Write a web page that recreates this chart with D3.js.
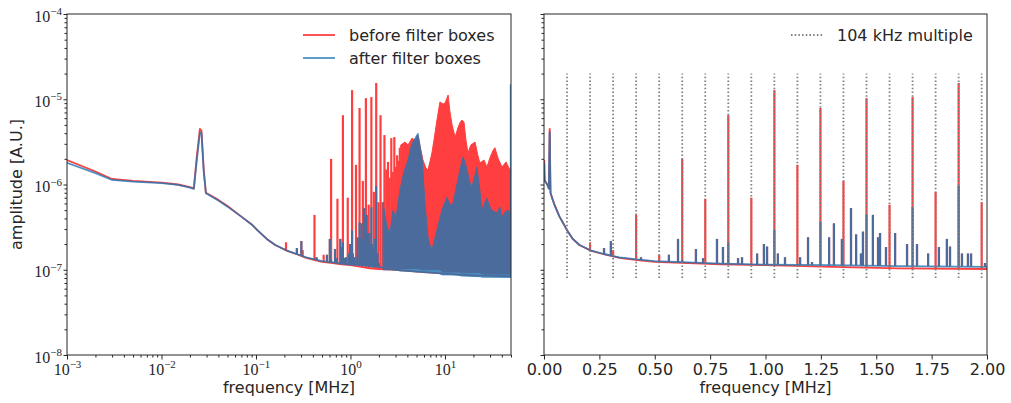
<!DOCTYPE html>
<html>
<head>
<meta charset="utf-8">
<script src="https://cdn.jsdelivr.net/npm/d3@7/dist/d3.min.js"></script>
<style>
  body { margin: 0; background: #ffffff; }
  #graf text { fill: #262626; }
</style>
</head>
<body>
<div id="graf"></div>
<script>
// ===== Datos (frecuencia en MHz, amplitud en A.U.) =====

// Linea base del espectro
const baseFreq   = [0.001, 0.002, 0.003, 0.005, 0.01, 0.015, 0.02, 0.022, 0.0235, 0.0255, 0.0265, 0.028, 0.0295,
                    0.04, 0.05, 0.07, 0.09, 0.104, 0.13, 0.16, 0.21, 0.27, 0.34, 0.42, 0.5, 0.65, 0.8, 1.0, 1.3,
                    1.6, 2.0, 3.0, 5.0, 10, 20, 50]
const baseBefore = [1.94e-6, 1.42e-6, 1.16e-6, 1.10e-6, 1.05e-6, 1.0e-6, 9.3e-7, 9.0e-7, 2.0e-6, 4.5e-6, 4.3e-6, 1.5e-6, 8.0e-7,
                    6.6e-7, 5.6e-7, 4.2e-7, 3.4e-7, 2.9e-7, 2.3e-7, 1.95e-7, 1.68e-7, 1.52e-7, 1.38e-7, 1.3e-7, 1.24e-7, 1.2e-7, 1.16e-7, 1.13e-7, 1.08e-7,
                    1.04e-7, 1.02e-7, 1.0e-7, 9.5e-8, 9.0e-8, 8.6e-8, 8.4e-8]
const baseAfter  = [1.80e-6, 1.36e-6, 1.13e-6, 1.08e-6, 1.04e-6, 9.9e-7, 9.2e-7, 8.9e-7, 1.8e-6, 4.1e-6, 4.0e-6, 1.4e-6, 7.9e-7,
                    6.5e-7, 5.5e-7, 4.2e-7, 3.4e-7, 2.9e-7, 2.3e-7, 1.95e-7, 1.69e-7, 1.53e-7, 1.4e-7, 1.32e-7, 1.26e-7, 1.22e-7, 1.18e-7, 1.15e-7, 1.13e-7,
                    1.1e-7, 1.08e-7, 1.0e-7, 9.5e-8, 9.0e-8, 8.4e-8, 8.2e-8]

// Picos: [frecuencia, piso, pico]
// Picos en multiplos de 104 kHz antes de los filtros
const beforeSpikes = [
  [0.208, 1.68e-7, 2.1e-7], [0.312, 1.45e-7, 1.7e-7], [0.416, 1.3e-7, 4.4e-7], [0.520, 1.24e-7, 1.5e-7],
  [0.624, 1.2e-7, 2.0e-6], [0.728, 1.18e-7, 6.8e-7], [0.832, 1.16e-7, 6.5e-6], [0.936, 1.14e-7, 7.0e-7],
  [1.040, 1.12e-7, 1.28e-5], [1.144, 1.1e-7, 1.7e-6], [1.248, 1.08e-7, 7.9e-6], [1.352, 1.06e-7, 1.1e-6],
  [1.456, 1.05e-7, 1.03e-5], [1.560, 1.04e-7, 5.8e-7], [1.664, 1.03e-7, 1.06e-5], [1.768, 1.03e-7, 8.2e-7],
  [1.872, 1.02e-7, 1.55e-5], [1.976, 1.02e-7, 6.2e-7], [2.080, 1.0e-7, 6.5e-6], [2.184, 1.0e-7, 6.2e-7],
  [2.288, 1.0e-7, 3.8e-6], [2.392, 1.0e-7, 1.5e-6], [2.496, 1.0e-7, 1.84e-6], [2.600, 1.0e-7, 1.2e-6],
  [2.704, 1.0e-7, 3.5e-6], [2.808, 1.0e-7, 1.4e-6], [2.912, 1.0e-7, 3.6e-6], [3.016, 1.0e-7, 1.6e-6],
  [3.120, 1.0e-7, 2.2e-6], [3.224, 1.0e-7, 1.9e-6], [3.328, 1.0e-7, 2.7e-6]
]
// Restos de los picos despues de los filtros
const afterSpikes = [
  [0.624, 1.22e-7, 1.3e-7], [0.832, 1.17e-7, 2.1e-7], [1.040, 1.15e-7, 2.9e-7], [1.248, 1.13e-7, 3.6e-7],
  [1.456, 1.12e-7, 4.4e-7], [1.664, 1.1e-7, 5.4e-7], [1.872, 1.09e-7, 9.6e-7], [49.9, 8.2e-8, 1.5e-5]
]
// Picos presentes antes y despues
const commonSpikes = [
  [0.271, 1.52e-7, 1.8e-7], [0.302, 1.45e-7, 2.17e-7], [0.438, 1.3e-7, 1.4e-7], [0.564, 1.24e-7, 1.5e-7],
  [0.605, 1.22e-7, 2.3e-7], [0.686, 1.2e-7, 1.75e-7], [0.718, 1.2e-7, 1.37e-7],
  [0.781, 1.18e-7, 2.3e-7], [0.808, 1.18e-7, 1.85e-7], [0.876, 1.17e-7, 1.37e-7],
  [0.894, 1.16e-7, 1.4e-7], [0.962, 1.16e-7, 1.55e-7], [0.993, 1.15e-7, 2.0e-7], [1.007, 1.15e-7, 1.87e-7],
  [1.056, 1.15e-7, 1.55e-7], [1.088, 1.14e-7, 1.4e-7], [1.156, 1.14e-7, 1.4e-7],
  [1.192, 1.14e-7, 2.4e-7], [1.210, 1.14e-7, 1.23e-7], [1.287, 1.13e-7, 2.4e-7],
  [1.309, 1.13e-7, 3.5e-7], [1.345, 1.12e-7, 2.3e-7], [1.386, 1.12e-7, 5.3e-7], [1.409, 1.12e-7, 2.6e-7],
  [1.431, 1.12e-7, 1.55e-7], [1.440, 1.12e-7, 2.8e-7], [1.485, 1.11e-7, 4.4e-7],
  [1.508, 1.11e-7, 2.4e-7], [1.517, 1.11e-7, 2.7e-7], [1.544, 1.11e-7, 1.85e-7], [1.585, 1.11e-7, 2.7e-7],
  [1.639, 1.1e-7, 2.0e-7], [1.684, 1.1e-7, 2.0e-7], [1.734, 1.1e-7, 1.55e-7],
  [1.783, 1.09e-7, 1.85e-7], [1.819, 1.09e-7, 2.3e-7], [1.833, 1.09e-7, 1.87e-7],
  [1.887, 1.09e-7, 1.55e-7], [1.914, 1.08e-7, 1.55e-7], [1.928, 1.08e-7, 1.55e-7], [1.991, 1.08e-7, 1.2e-7]
]

// Zonas densas (alta frecuencia): frecuencia, borde inferior y superior
const beforeBandF  = [3.4, 3.78, 4.06, 4.48, 4.82, 5.18, 5.57, 5.85, 6.29, 6.61, 6.93, 7.28, 7.65, 8.23, 8.85, 9.52, 10.0,
                      10.5, 10.8, 11.3, 11.9, 12.8, 13.7, 14.4, 15.1, 15.9, 16.7, 17.5, 18.8, 20.8, 22.3, 23.4, 25.9,
                      27.8, 29.9, 32.2, 33.8, 36.4, 40.1, 44.3, 48.7, 50]
const beforeBandHi = [2.9e-6, 3.15e-6, 2.9e-6, 3.5e-6, 3.3e-6, 3.8e-6, 2.5e-6, 1.94e-6, 1.56e-6, 1.48e-6, 1.84e-6, 2.35e-6,
                      3.3e-6, 5.7e-6, 9.3e-6, 8.8e-6, 9.0e-6, 1.03e-5, 1.12e-5, 7.1e-6, 5.0e-6, 3.6e-6, 4.6e-6, 5.3e-6,
                      5.7e-6, 5.4e-6, 3.3e-6, 2.35e-6, 2.9e-6, 3.15e-6, 2.2e-6, 1.79e-6, 1.94e-6, 1.6e-6, 2.05e-6,
                      2.5e-6, 2.7e-6, 2.05e-6, 1.6e-6, 1.84e-6, 1.48e-6, 1.56e-6]
const beforeBandLo = [1.03e-7, 1.03e-7, 1.03e-7, 1.03e-7, 1.03e-7, 1.03e-7, 1.0e-7, 1.0e-7, 1.0e-7, 1.0e-7, 1.0e-7, 1.0e-7,
                      1.0e-7, 1.0e-7, 1.0e-7, 9.4e-8, 9.4e-8, 9.4e-8, 9.4e-8, 9.4e-8, 9.4e-8, 9.4e-8, 9.4e-8, 9.4e-8,
                      9.2e-8, 9.2e-8, 9.2e-8, 9.2e-8, 9.2e-8, 9.2e-8, 9.2e-8, 9.2e-8, 8.9e-8, 8.9e-8, 8.9e-8,
                      8.9e-8, 8.9e-8, 8.9e-8, 8.9e-8, 8.9e-8, 8.9e-8, 8.9e-8]

const afterBandF  = [2.21, 2.43, 2.62, 2.82, 3.03, 3.34, 3.68, 4.06, 4.36, 4.70, 5.18, 5.43, 5.71, 6.14, 6.61, 6.93,
                     7.28, 7.84, 8.23, 9.29, 10.5, 11.3, 12.2, 13.7, 14.8, 15.5, 16.3, 17.1, 18.4, 19.3, 20.8, 21.8,
                     23.4, 24.6, 26.5, 27.8, 29.9, 31.4, 33.8, 35.5, 38.2, 40.1, 43.1, 46.4, 49.9]
const afterBandHi = [6.2e-7, 3.17e-7, 2.7e-7, 5.0e-7, 4.05e-7, 8.6e-7, 1.4e-6, 1.94e-6, 2.75e-6, 3.33e-6, 4.0e-6, 2.9e-6,
                     2.1e-6, 6.07e-7, 2.42e-7, 1.95e-7, 1.71e-7, 2.36e-7, 2.92e-7, 5.0e-7, 7.1e-7, 5.75e-7, 6.07e-7,
                     1.13e-6, 1.69e-6, 2.1e-6, 1.84e-6, 1.48e-6, 1.04e-6, 9.35e-7, 1.29e-6, 1.6e-6, 8.6e-7, 5.0e-7,
                     6.2e-7, 6.95e-7, 5.45e-7, 5.0e-7, 4.75e-7, 4.63e-7, 5.45e-7, 4.16e-7, 4.75e-7, 5.0e-7, 4.4e-7]
const afterBandLo = [1.0e-7, 1.0e-7, 1.0e-7, 1.0e-7, 1.0e-7, 9.7e-8, 9.7e-8, 9.7e-8, 9.7e-8, 9.7e-8, 9.7e-8, 9.7e-8,
                     9.4e-8, 9.4e-8, 9.4e-8, 9.4e-8, 9.4e-8, 9.4e-8, 9.4e-8, 8.7e-8, 8.7e-8, 8.7e-8, 8.7e-8, 8.7e-8,
                     8.45e-8, 8.45e-8, 8.45e-8, 8.45e-8, 8.45e-8, 8.45e-8, 8.45e-8, 8.45e-8, 8.45e-8, 8.2e-8, 8.2e-8,
                     8.2e-8, 8.2e-8, 8.2e-8, 8.2e-8, 8.2e-8, 8.2e-8, 8.2e-8, 8.2e-8, 8.2e-8, 8.2e-8]

// Multiplos de 104 kHz (lineas punteadas)
const multiplo = 0.104
const armonicos = [1, 2, 3, 4, 5, 6, 7, 8, 9, 10, 11, 12, 13, 14, 15, 16, 17, 18, 19]
const lineaPuntLo = 8e-8, lineaPuntHi = 2e-5

// Ticks del eje x derecho
const ticksXDer = [0, 0.25, 0.5, 0.75, 1.0, 1.25, 1.5, 1.75, 2.0]

// ===== Configuracion =====
const ancho_total = 1011, alto_total = 403
const alto = 341
const margenIzq = { izquierdo: 67, superior: 14, ancho: 444 }
const margenDer = { izquierdo: 544, superior: 14, ancho: 443 }
const colorRojo = 'red', colorAzul = '#1f77b4'
const serif = "'Liberation Serif', 'DejaVu Serif', serif"
const sans = "'DejaVu Sans', sans-serif"

const svg = d3.select('#graf').append('svg')
              .attr('width', ancho_total)
              .attr('height', alto_total)
              .style('font-family', sans)
const defs = svg.append('defs')

// Escaladores
const y = d3.scaleLog().domain([1e-8, 1e-4]).range([alto, 0])
const xIzq = d3.scaleLog().domain([1e-3, 50]).range([0, margenIzq.ancho])
const xDer = d3.scaleLinear().domain([0, 2]).range([0, margenDer.ancho])

const esMayor = d => Math.abs(Math.log10(d) - Math.round(Math.log10(d))) < 1e-6

// Dibuja una serie (linea base + picos + zona densa)
function serie(g, x, color, alpha, base, picos, bandaF, bandaLo, bandaHi) {
  const s = g.append('g').attr('opacity', alpha)
  const linea = d3.line().x(d => x(d[0])).y(d => y(d[1]))
  s.append('path')
   .datum(d3.zip(baseFreq, base))
   .attr('d', linea)
   .attr('fill', 'none')
   .attr('stroke', color)
   .attr('stroke-width', 1.8)
   .attr('stroke-linejoin', 'round')
  s.selectAll('line')
   .data(picos)
   .join('line')
   .attr('x1', d => x(d[0])).attr('x2', d => x(d[0]))
   .attr('y1', d => y(d[1])).attr('y2', d => y(d[2]))
   .attr('stroke', color)
   .attr('stroke-width', 2.2)
  const area = d3.area().x(d => x(d[0])).y0(d => y(d[1])).y1(d => y(d[2]))
  s.append('path')
   .datum(d3.zip(bandaF, bandaLo, bandaHi))
   .attr('d', area)
   .attr('fill', color)
   .attr('stroke', color)
   .attr('stroke-width', 1)
}

// Crea un panel con su area de recorte y las dos series
function panel(m, x, id) {
  defs.append('clipPath').attr('id', id)
      .append('rect').attr('width', m.ancho).attr('height', alto)
  const g = svg.append('g').attr('transform', `translate(${m.izquierdo}, ${m.superior})`)
  const datos = g.append('g').attr('clip-path', `url(#${id})`)
  serie(datos, x, colorRojo, 0.75, baseBefore, beforeSpikes.concat(commonSpikes), beforeBandF, beforeBandLo, beforeBandHi)
  serie(datos, x, colorAzul, 0.8, baseAfter, afterSpikes.concat(commonSpikes), afterBandF, afterBandLo, afterBandHi)
  return { g, datos }
}

// Etiquetas tipo 10^n
function potencias(sel) {
  sel.selectAll('.tick text').each(function(d) {
    const e = Math.round(Math.log10(d))
    const t = d3.select(this).text(null)
                .attr('font-family', serif)
                .attr('font-size', 16)
    t.append('tspan').text('10')
    t.append('tspan').attr('dy', -6.5).attr('font-size', 11).text(e < 0 ? '\u2212' + (-e) : e)
  })
}

function limpiarEje(sel) {
  sel.select('.domain').remove()
  sel.selectAll('.tick line').attr('stroke', '#262626').attr('stroke-width', 1)
}

// Eje y logaritmico (mayores y menores)
function ejeY(g, conEtiquetas) {
  const ticks = y.ticks()
  g.append('g').call(d3.axisLeft(y).tickValues(ticks.filter(d => !esMayor(d))).tickSize(2.5).tickFormat(''))
   .call(limpiarEje)
  const gy = g.append('g').call(d3.axisLeft(y).tickValues(ticks.filter(esMayor)).tickSize(3.5).tickPadding(1.5))
              .call(limpiarEje)
  if (conEtiquetas) {
    gy.call(potencias)
    gy.selectAll('.tick text').attr('dy', '0.45em')
  } else {
    gy.selectAll('.tick text').remove()
  }
}

// ===== Panel izquierdo =====
const izq = panel(margenIzq, xIzq, 'clipIzq')
const ticksXIzq = xIzq.ticks()
izq.g.append('g').attr('transform', `translate(0, ${alto})`)
     .call(d3.axisBottom(xIzq).tickValues(ticksXIzq.filter(d => !esMayor(d))).tickSize(2.5).tickFormat(''))
     .call(limpiarEje)
izq.g.append('g').attr('transform', `translate(0, ${alto})`)
     .call(d3.axisBottom(xIzq).tickValues(ticksXIzq.filter(esMayor)).tickSize(4.5).tickPadding(4))
     .call(limpiarEje)
     .call(potencias)
ejeY(izq.g, true)

izq.g.append('rect')
     .attr('width', margenIzq.ancho).attr('height', alto)
     .attr('fill', 'none').attr('stroke', '#262626').attr('stroke-width', 1)

izq.g.append('text')
     .attr('x', margenIzq.ancho / 2).attr('y', 379)
     .attr('text-anchor', 'middle').attr('font-size', 16)
     .text('frequency [MHz]')

svg.append('text')
   .attr('transform', `translate(22, ${margenIzq.superior + alto / 2}) rotate(-90)`)
   .attr('text-anchor', 'middle').attr('font-size', 16)
   .text('amplitude [A.U.]')

// Leyenda izquierda
const leyendaIzq = [['before filter boxes', colorRojo, 0.75], ['after filter boxes', colorAzul, 0.8]]
leyendaIzq.forEach((d, i) => {
  const ly = 21 + i * 23
  izq.g.append('line')
       .attr('x1', 236).attr('x2', 268).attr('y1', ly).attr('y2', ly)
       .attr('stroke', d[1]).attr('stroke-opacity', d[2]).attr('stroke-width', 1.8)
  izq.g.append('text')
       .attr('x', 282).attr('y', ly + 6).attr('font-size', 16)
       .text(d[0])
})

// ===== Panel derecho =====
const der = panel(margenDer, xDer, 'clipDer')

// Lineas punteadas en los multiplos de 104 kHz
der.datos.append('g').selectAll('line')
   .data(armonicos)
   .join('line')
   .attr('x1', n => xDer(n * multiplo)).attr('x2', n => xDer(n * multiplo))
   .attr('y1', y(lineaPuntLo)).attr('y2', y(lineaPuntHi))
   .attr('stroke', '#808080').attr('stroke-width', 1.8)
   .attr('stroke-dasharray', '1.5,2.2')

der.g.append('g').attr('transform', `translate(0, ${alto})`)
     .call(d3.axisBottom(xDer).tickValues(ticksXDer).tickFormat(d3.format('.2f')).tickSize(4.5).tickPadding(4))
     .call(limpiarEje)
     .call(s => s.selectAll('.tick text').attr('font-size', 16).attr('font-family', sans))
ejeY(der.g, false)

der.g.append('rect')
     .attr('width', margenDer.ancho).attr('height', alto)
     .attr('fill', 'none').attr('stroke', '#262626').attr('stroke-width', 1)

der.g.append('text')
     .attr('x', margenDer.ancho / 2).attr('y', 379)
     .attr('text-anchor', 'middle').attr('font-size', 16)
     .text('frequency [MHz]')

// Leyenda derecha
der.g.append('line')
     .attr('x1', 247).attr('x2', 279).attr('y1', 21).attr('y2', 21)
     .attr('stroke', '#808080').attr('stroke-width', 1.8)
     .attr('stroke-dasharray', '1.5,2.2')
der.g.append('text')
     .attr('x', 293).attr('y', 27).attr('font-size', 16)
     .text('104 kHz multiple')
</script>
</body>
</html>
